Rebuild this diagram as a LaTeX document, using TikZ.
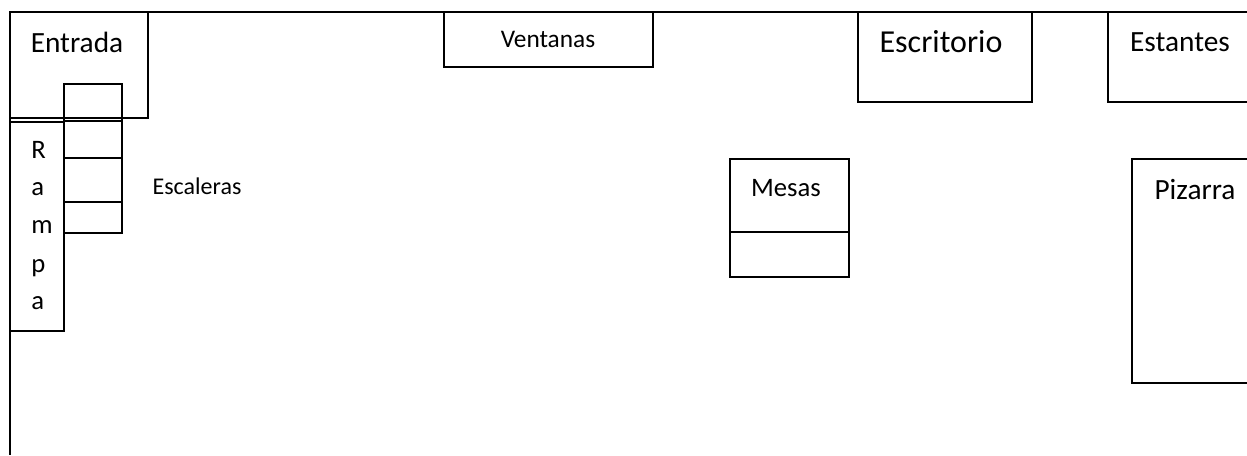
\documentclass[tikz,border=0pt]{standalone}
\usepackage{fontspec}
\setmainfont{Carlito}
\tikzset{
    mueble/.style={draw=black, line width=1pt},
    grueso/.style={draw=black, line width=2pt},
    grande/.style={font=\fontsize{22}{26}\selectfont, inner sep=0pt},
    medio/.style={font=\fontsize{20}{24}\selectfont, inner sep=0pt},
    chico/.style={font=\fontsize{18}{22}\selectfont, inner sep=0pt}
}

\begin{document}
\begin{tikzpicture}[x=0.75pt, y=-0.75pt]
    \useasboundingbox (0,0) rectangle (1247,455);
    % paredes
    \draw[mueble] (1247,12) -- (10,12) -- (10,455);
    % entrada y rampa
    \draw[mueble] (10,118) -- (148,118) -- (148,12);
    \draw[mueble] (10,122) -- (64,122) -- (64,331) -- (10,331);
    % escaleras
    \draw[mueble] (64,84) rectangle (122,233);
    \draw[mueble] (64,121) -- (122,121);
    \draw[grueso] (64,158) -- (122,158);
    \draw[grueso] (64,202) -- (122,202);
    % muebles
    \draw[mueble] (444,12) rectangle (653,67);
    \draw[mueble] (858,12) rectangle (1032,102);
    \draw[mueble] (1247,102) -- (1108,102) -- (1108,12);
    \draw[mueble] (730,159) rectangle (849,277);
    \draw[grueso] (730,232) -- (849,232);
    \draw[mueble] (1247,159) -- (1132,159) -- (1132,383) -- (1247,383);
    % textos
    \node[grande] (entrada) at (77,42) {Entrada};
    \node[medio, font=\fontsize{19}{23}\selectfont] (ventanas) at (548,39) {Ventanas};
    \node[grande, font=\fontsize{24}{28}\selectfont] (escritorio) at (941,42) {Escritorio};
    \node[grande] (estantes) at (1180,42) {Estantes};
    \node[medio] (mesas) at (786,188) {Mesas};
    \node[grande] (pizarra) at (1195,190) {Pizarra};
    \node[chico] (escaleras) at (197,186) {Escaleras};
    \foreach \letra/\posy/\nombre in {R/151/r, a/188/a, m/226/m, p/265/p, a/302/b}
        \node[medio, anchor=base west] (rampa\nombre) at (31,\posy+7) {\letra};
\end{tikzpicture}
\end{document}
